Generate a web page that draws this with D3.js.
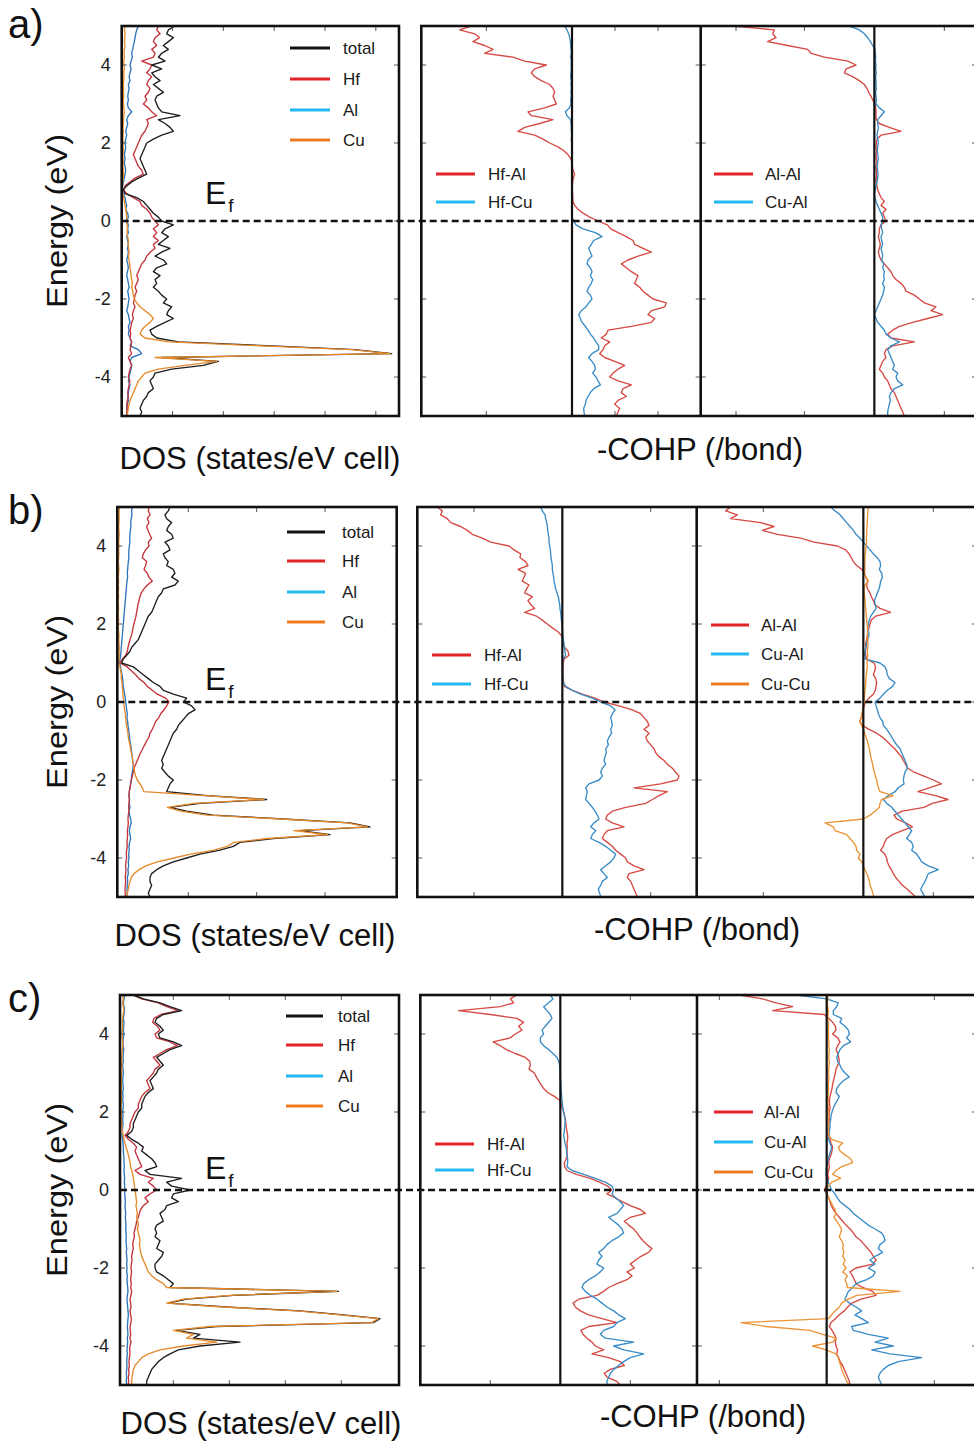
<!DOCTYPE html>
<html><head><meta charset="utf-8">
<script src="https://cdn.jsdelivr.net/npm/d3@7"></script>
<style>
html,body{margin:0;padding:0;background:#fff;}
svg{display:block;font-family:"Liberation Sans",Arial,Helvetica,sans-serif;}
</style></head><body>
<svg id="chart" width="974" height="1443"></svg>
<script>
// Sampling grid shared by every curve: +5 ... -5 eV in 0.1 eV steps
const energy = d3.range(50, -51, -1).map(k => k / 10);
const energyTicks = [4, 2, 0, -2, -4];
const rowTags = ["a)", "b)", "c)"];
const dosSeries = ["total", "Hf", "Al", "Cu"];

// ---- (a) DOS, states/eV cell ----
const dosA_total = [1.6,1.4,1.35,1.55,1.4,1.25,1.4,1.2,1.1,1.3,
0.9,1.2,0.9,1.0,1.15,0.95,1.1,1.25,1.05,1.0,
1.05,1.1,1.2,1.75,1.1,1.3,1.45,1.55,1.2,0.95,
0.75,0.7,0.65,0.6,0.55,0.6,0.65,0.7,0.75,0.5,
0.3,0.15,0.05,0.1,0.45,0.65,0.75,0.85,0.95,1.1,
1.2,1.55,1.3,1.2,1.4,1.25,1.1,1.45,1.2,1.0,
1.25,1.35,1.05,0.95,1.15,1.0,1.05,0.95,1.1,1.2,
1.35,1.25,1.5,1.4,1.35,1.55,1.3,1.05,0.85,0.9,
1.05,1.7,4.5,7.0,8.1,1.2,2.9,2.45,1.5,1.0,
0.95,0.85,0.9,0.95,0.8,0.75,0.65,0.6,0.55,0.6,
0.55];
const dosA_hf = [1.1,1.05,1.15,1.0,0.95,1.05,0.9,1.0,0.95,0.6,
0.9,0.85,0.75,0.9,0.8,0.75,0.85,0.8,0.7,0.75,
0.65,0.8,0.9,1.05,0.75,0.8,0.75,0.7,0.6,0.55,
0.5,0.45,0.4,0.35,0.4,0.45,0.5,0.6,0.65,0.4,
0.25,0.1,0.05,0.15,0.35,0.55,0.6,0.75,0.85,0.9,
1.0,1.1,0.95,1.05,0.95,1.1,0.95,1.0,0.85,0.75,
0.7,0.6,0.55,0.5,0.45,0.5,0.45,0.4,0.45,0.4,
0.38,0.35,0.4,0.35,0.32,0.35,0.3,0.28,0.25,0.27,
0.25,0.3,0.28,0.25,0.3,0.2,0.25,0.3,0.25,0.22,
0.2,0.25,0.22,0.2,0.18,0.2,0.17,0.15,0.17,0.15,
0.15];
const dosA_al = [0.5,0.45,0.42,0.4,0.38,0.35,0.33,0.3,0.32,0.28,
0.25,0.28,0.25,0.22,0.25,0.2,0.22,0.2,0.18,0.2,
0.17,0.2,0.3,0.2,0.15,0.18,0.15,0.12,0.15,0.12,
0.1,0.12,0.1,0.08,0.1,0.08,0.1,0.12,0.1,0.08,
0.05,0.03,0.02,0.05,0.1,0.12,0.15,0.12,0.18,0.2,
0.15,0.2,0.18,0.2,0.15,0.18,0.2,0.17,0.2,0.18,
0.15,0.18,0.2,0.17,0.15,0.18,0.2,0.22,0.18,0.2,
0.22,0.2,0.18,0.15,0.2,0.22,0.25,0.2,0.22,0.2,
0.25,0.3,0.25,0.5,0.6,0.3,0.25,0.3,0.28,0.25,
0.22,0.2,0.25,0.22,0.2,0.18,0.2,0.17,0.15,0.17,
0.15];
const dosA_cu = [0.1,0.08,0.1,0.09,0.08,0.1,0.08,0.07,0.08,0.06,
0.07,0.08,0.06,0.07,0.06,0.05,0.06,0.05,0.06,0.05,
0.05,0.06,0.08,0.06,0.05,0.05,0.04,0.05,0.04,0.04,
0.05,0.04,0.05,0.04,0.04,0.05,0.04,0.05,0.06,0.04,
0.03,0.02,0.02,0.03,0.06,0.08,0.1,0.12,0.14,0.15,
0.14,0.16,0.17,0.16,0.18,0.2,0.19,0.21,0.22,0.2,
0.22,0.24,0.25,0.27,0.28,0.3,0.32,0.3,0.33,0.35,
0.38,0.45,0.55,0.7,0.85,0.95,0.85,0.7,0.6,0.55,
0.7,1.4,4.2,6.9,8.05,1.0,2.85,1.9,1.1,0.7,
0.6,0.5,0.45,0.4,0.35,0.3,0.25,0.22,0.2,0.18,
0.15];

// ---- (a) -COHP per bond ----
const cohpA_hfal = [-3.02,-3.37,-2.92,-2.77,-2.97,-2.62,-2.37,-2.62,-1.77,-1.42,
-0.77,-1.12,-1.22,-1.12,-0.92,-0.67,-0.57,-0.52,-0.57,-0.52,
-0.47,-0.82,-1.32,-1.22,-0.57,-0.97,-1.42,-1.62,-1.12,-0.87,
-0.67,-0.42,-0.24,-0.12,-0.04,0,0.01,0.03,0.08,0.04,
0.02,0.01,0.01,0.02,0.02,0.03,0.08,0.18,0.33,0.53,
0.78,1.06,1.16,1.38,1.63,1.83,1.88,2.13,2.38,1.98,
1.68,1.48,1.63,1.78,1.98,1.93,1.88,2.03,2.13,2.28,
2.43,2.83,2.78,2.38,2.28,2.48,2.38,1.78,1.08,1.03,
0.88,1.13,0.98,0.93,0.83,0.98,1.28,1.58,1.38,1.23,
1.13,1.38,1.78,1.53,1.48,1.63,1.38,1.28,1.43,1.38,
1.33];
const cohpA_hfcu = [-0.22,-0.15,-0.1,-0.07,-0.05,-0.04,-0.03,-0.02,-0.04,-0.02,
-0.03,-0.02,-0.03,-0.04,-0.02,-0.03,-0.02,-0.03,-0.02,-0.04,
-0.03,-0.08,-0.2,-0.15,-0.04,-0.03,-0.02,-0.02,-0.01,-0.02,
-0.01,-0.01,0,-0.01,0,0,0.01,0,0,0.01,
0,0,0.01,0,0,0.01,0,0,0,0,
0.05,0.12,0.33,0.7,0.9,0.65,0.58,0.5,0.55,0.6,
0.48,0.45,0.55,0.6,0.55,0.62,0.58,0.5,0.45,0.55,
0.6,0.5,0.42,0.28,0.2,0.25,0.3,0.4,0.48,0.55,
0.65,0.72,0.8,0.8,0.6,0.5,0.6,0.68,0.7,0.62,
0.72,0.78,0.85,0.65,0.55,0.48,0.42,0.4,0.35,0.36,
0.38];
const cohpA_alal = [-4.25,-3.0,-3.05,-2.95,-3.2,-2.6,-2.0,-1.9,-1.5,-0.8,
-0.55,-0.85,-0.9,-0.65,-0.45,-0.3,-0.22,-0.17,-0.1,-0.05,
0.02,0.04,0.05,0.05,0.06,0.15,0.45,0.8,0.2,0.08,
0.06,0.05,0.07,0.05,0.06,0.08,0.05,0.06,0.07,0.06,
0.05,0.08,0.1,0.15,0.2,0.3,0.2,0.35,0.25,0.3,
0.35,0.2,0.15,0.15,0.12,0.15,0.18,0.15,0.12,0.15,
0.2,0.3,0.4,0.5,0.55,0.65,0.8,0.9,0.95,1.2,
1.35,1.5,1.85,1.7,2.05,1.6,1.15,0.75,0.55,0.4,
0.5,1.2,0.55,0.35,0.3,0.35,0.25,0.2,0.15,0.25,
0.3,0.4,0.45,0.5,0.6,0.65,0.7,0.75,0.8,0.85,
0.9];
const cohpA_cual = [-0.75,-0.45,-0.3,-0.2,-0.12,-0.05,0.02,0.03,0.04,0.03,
0.05,0.04,0.06,0.04,0.05,0.05,0.06,0.04,0.05,0.06,
0.05,0.15,0.3,0.2,0.1,0.1,0.12,0.1,0.08,0.1,
0.12,0.1,0.09,0.1,0.12,0.1,0.08,0.1,0.11,0.1,
0.08,0.05,0.03,0,0.02,0.05,0.1,0.15,0.2,0.25,
0.25,0.2,0.22,0.25,0.2,0.22,0.25,0.2,0.23,0.25,
0.22,0.28,0.25,0.3,0.28,0.3,0.25,0.3,0.28,0.25,
0.2,0.15,0.1,0.05,0,0.05,0.1,0.2,0.3,0.35,
0.5,0.75,0.5,0.4,0.45,0.5,0.55,0.6,0.55,0.7,
0.65,0.7,0.85,0.6,0.5,0.45,0.48,0.45,0.42,0.4,
0.4];

// ---- (b) DOS ----
const dosB_total = [1.58,1.53,1.43,1.48,1.63,1.53,1.48,1.63,1.68,1.43,
1.53,1.58,1.38,1.43,1.53,1.48,1.68,1.73,1.63,1.83,
1.73,1.38,1.33,1.23,1.18,1.13,1.08,1.03,0.93,0.88,
0.83,0.78,0.73,0.68,0.63,0.53,0.43,0.38,0.28,0.18,
0.13,0.48,0.63,0.78,0.93,1.08,1.28,1.38,1.68,2.08,
1.98,2.23,2.33,2.13,2.03,1.93,1.83,1.78,1.68,1.63,
1.58,1.53,1.48,1.43,1.38,1.33,1.38,1.33,1.43,1.53,
1.68,1.58,1.53,1.48,2.7,4.48,2.48,1.58,2.08,2.88,
4.98,6.98,7.58,5.48,6.38,4.68,3.68,3.48,3.08,2.48,
2.08,1.68,1.38,1.18,1.03,0.98,0.98,1.03,0.98,0.93,
0.98];
const dosB_hf = [0.95,0.93,0.98,0.9,0.95,0.88,0.92,0.97,1.03,0.93,
0.95,0.85,0.78,0.75,0.88,0.85,0.8,0.9,0.95,1.05,
0.9,0.8,0.72,0.68,0.65,0.62,0.6,0.58,0.56,0.53,
0.5,0.47,0.45,0.42,0.38,0.35,0.32,0.3,0.25,0.15,
0.08,0.3,0.42,0.55,0.65,0.8,0.9,1.05,1.2,1.45,
1.55,1.48,1.4,1.3,1.25,1.15,1.1,1.05,0.98,0.95,
0.88,0.82,0.76,0.7,0.65,0.6,0.55,0.5,0.48,0.45,
0.42,0.4,0.38,0.36,0.35,0.36,0.35,0.34,0.35,0.33,
0.32,0.33,0.32,0.3,0.31,0.3,0.29,0.3,0.28,0.27,
0.28,0.26,0.25,0.26,0.25,0.24,0.25,0.24,0.23,0.24,
0.23];
const dosB_al = [0.45,0.43,0.44,0.42,0.4,0.41,0.39,0.38,0.37,0.38,
0.36,0.35,0.34,0.35,0.33,0.32,0.31,0.3,0.31,0.29,
0.28,0.27,0.26,0.25,0.24,0.23,0.22,0.21,0.2,0.19,
0.18,0.17,0.16,0.15,0.14,0.13,0.12,0.11,0.1,0.08,
0.07,0.1,0.12,0.14,0.16,0.17,0.18,0.2,0.22,0.24,
0.25,0.27,0.28,0.3,0.29,0.31,0.32,0.34,0.35,0.37,
0.38,0.4,0.42,0.43,0.45,0.46,0.48,0.47,0.45,0.43,
0.42,0.4,0.38,0.36,0.35,0.37,0.36,0.38,0.35,0.37,
0.4,0.42,0.38,0.36,0.38,0.4,0.37,0.35,0.36,0.34,
0.35,0.33,0.34,0.32,0.33,0.3,0.31,0.3,0.29,0.3,
0.29];
const dosB_cu = [0.05,0.06,0.05,0.06,0.05,0.04,0.05,0.06,0.05,0.04,
0.05,0.04,0.05,0.04,0.03,0.04,0.05,0.04,0.03,0.04,
0.03,0.04,0.03,0.04,0.03,0.03,0.04,0.03,0.03,0.04,
0.03,0.03,0.04,0.05,0.04,0.05,0.06,0.05,0.06,0.05,
0.04,0.08,0.1,0.12,0.12,0.14,0.15,0.16,0.17,0.18,
0.2,0.2,0.22,0.24,0.25,0.26,0.28,0.3,0.32,0.33,
0.35,0.38,0.4,0.42,0.45,0.46,0.48,0.5,0.52,0.55,
0.6,0.68,0.75,0.8,2.6,4.4,2.3,1.5,1.9,2.7,
4.9,6.9,7.5,5.3,6.3,4.5,3.5,3.3,2.9,2.2,
1.7,1.2,0.85,0.65,0.5,0.42,0.38,0.35,0.33,0.3,
0.28];

// ---- (b) -COHP ----
const cohpB_hfal = [-3.75,-3.6,-3.65,-3.45,-3.35,-3.05,-2.85,-2.7,-2.4,-2.15,
-1.6,-1.45,-1.25,-1.27,-1.1,-1.03,-1.33,-1.1,-1.15,-1.2,
-1.0,-1.07,-1.13,-0.9,-1.03,-0.95,-0.83,-1.13,-0.77,-0.6,
-0.45,-0.3,-0.13,-0.02,0.02,0.03,0.07,0.17,0.2,0.05,
0.03,0.02,0.02,0.02,0.03,0.04,0.06,0.3,0.6,0.98,
1.25,1.7,2.1,2.35,2.45,2.55,2.6,2.45,2.6,2.5,
2.55,2.65,2.75,2.8,2.9,3.05,3.15,3.3,3.4,3.5,
3.45,2.95,2.15,3.15,2.9,2.7,2.5,1.9,1.5,1.35,
1.3,1.5,1.85,1.35,1.25,1.2,1.35,1.5,1.6,1.75,
1.9,1.95,2.15,2.45,2.0,1.95,2.05,2.1,2.15,2.2,
2.25];
const cohpB_hfcu = [-0.65,-0.6,-0.52,-0.5,-0.47,-0.45,-0.44,-0.42,-0.4,-0.4,
-0.38,-0.36,-0.35,-0.34,-0.32,-0.3,-0.3,-0.28,-0.26,-0.25,
-0.22,-0.2,-0.16,-0.12,-0.1,-0.08,-0.07,-0.05,-0.04,-0.03,
-0.01,0,0.01,0.02,0.03,0.05,0.06,0.08,0.1,0.02,
0,0.01,0,0.01,0.02,0.03,0.1,0.3,0.55,0.9,
1.15,1.45,1.58,1.5,1.45,1.48,1.5,1.45,1.48,1.4,
1.35,1.38,1.3,1.32,1.28,1.25,1.3,1.2,1.15,1.2,
1.1,0.8,0.7,0.75,0.72,0.7,0.8,0.9,0.98,1.05,
1.1,0.95,0.85,1.0,0.9,0.85,1.1,1.3,1.45,1.6,
1.55,1.45,1.3,1.15,1.25,1.35,1.2,1.15,1.08,1.12,
1.15];
const cohpB_alal = [-3.98,-4.13,-3.78,-3.98,-3.08,-2.68,-3.03,-2.58,-1.88,-1.48,
-0.78,-0.53,-0.43,-0.36,-0.3,-0.2,-0.05,0.04,0.07,0.14,
0.1,0.12,0.2,0.24,0.3,0.34,0.5,0.82,0.37,0.24,
0.2,0.17,0.14,0.12,0.1,0.07,0.08,0.06,0.07,0.1,
0.32,0.37,0.34,0.3,0.37,0.4,0.38,0.36,0.3,0.17,
0.07,0.02,0,-0.03,-0.06,-0.11,-0.03,0.17,0.4,0.57,
0.7,0.82,0.94,1.04,1.14,1.2,1.27,1.34,1.52,1.82,
2.1,2.34,1.97,1.64,2.17,2.54,2.07,1.82,1.17,0.92,
1.0,1.27,1.47,1.17,0.87,0.7,0.64,0.6,0.52,0.64,
0.7,0.72,0.77,0.84,0.9,0.97,1.07,1.17,1.32,1.44,
1.57];
const cohpB_cual = [-0.98,-0.85,-0.7,-0.6,-0.5,-0.4,-0.3,-0.22,-0.1,0,
0.1,0.2,0.3,0.42,0.5,0.52,0.48,0.55,0.57,0.52,
0.5,0.47,0.42,0.38,0.33,0.36,0.38,0.3,0.22,0.18,
0.15,0.13,0.16,0.17,0.13,0.1,0.08,0.05,0.04,0.06,
0.5,0.65,0.7,0.72,0.78,0.95,0.88,0.72,0.6,0.5,
0.35,0.38,0.42,0.45,0.5,0.58,0.6,0.7,0.78,0.85,
0.92,1.0,1.1,1.15,1.2,1.25,1.3,1.32,1.25,1.22,
1.2,1.22,1.05,0.95,0.75,0.6,0.7,0.85,0.95,1.05,
1.15,1.25,1.35,1.45,1.38,1.3,1.45,1.5,1.45,1.6,
1.68,1.75,1.95,2.25,1.95,1.9,1.85,1.78,1.72,1.78,
1.85];
const cohpB_cucu = [0.15,0.14,0.13,0.12,0.12,0.11,0.1,0.1,0.09,0.1,
0.08,0.07,0.06,0.05,0.05,0.04,0.05,0.03,0.08,0.15,
0.05,0.02,0.03,0.04,0.05,0.06,0.07,0.08,0.09,0.1,
0.11,0.12,0.13,0.12,0.13,0.14,0.13,0.12,0.13,0.12,
0.11,0.12,0.1,0.09,0.08,0.07,0.06,0.05,0.04,0.03,
0.02,0,-0.02,-0.04,-0.06,-0.1,-0.05,0,0.04,0.08,
0.12,0.15,0.18,0.2,0.22,0.25,0.28,0.3,0.33,0.36,
0.4,0.42,0.45,0.5,0.9,0.55,0.5,0.48,0.35,0.2,
0,-1.15,-0.9,-0.85,-0.5,-0.4,-0.3,-0.22,-0.2,-0.1,
-0.15,-0.05,0,0.05,0.1,0.15,0.18,0.2,0.25,0.28,
0.32];

// ---- (c) DOS ----
const dosC_total = [0.4,0.7,1.2,1.5,1.85,1.3,1.1,1.05,1.2,1.3,
1.15,1.2,1.6,1.85,1.5,1.3,1.1,1.2,1.3,1.15,
1.1,1.0,0.9,0.95,1.0,0.85,0.75,0.7,0.65,0.65,
0.55,0.5,0.45,0.4,0.4,0.35,0.2,0.35,0.55,0.7,
0.65,0.8,0.95,1.05,1.1,0.75,0.9,1.85,1.4,1.55,
2.1,1.6,1.55,1.75,1.4,1.35,1.2,1.25,1.3,1.1,
1.05,1.1,1.05,1.2,1.15,1.1,1.3,1.25,1.15,1.05,
1.05,1.1,1.3,1.45,1.6,1.5,6.55,3.4,2.0,1.45,
3.2,5.4,6.7,7.8,7.6,2.9,1.7,2.4,2.2,3.6,
2.4,1.75,1.5,1.3,1.15,1.05,0.95,0.9,0.85,0.8,
0.8];
const dosC_hf = [0.38,0.65,1.15,1.4,1.75,1.22,1.02,0.98,1.12,1.2,
1.05,1.1,1.5,1.72,1.4,1.2,1.0,1.1,1.2,1.05,
1.0,0.9,0.8,0.85,0.9,0.75,0.65,0.6,0.55,0.55,
0.45,0.4,0.35,0.3,0.3,0.25,0.15,0.25,0.4,0.5,
0.45,0.5,0.55,0.6,0.65,0.45,0.6,1.0,0.85,1.0,
1.1,0.9,0.75,0.85,0.7,0.62,0.58,0.55,0.5,0.48,
0.45,0.42,0.43,0.4,0.38,0.4,0.37,0.35,0.36,0.34,
0.33,0.35,0.33,0.32,0.34,0.32,0.35,0.33,0.3,0.32,
0.33,0.3,0.32,0.34,0.33,0.3,0.31,0.32,0.3,0.33,
0.3,0.29,0.3,0.28,0.27,0.28,0.26,0.27,0.25,0.26,
0.25];
const dosC_al = [0.15,0.12,0.1,0.12,0.14,0.12,0.1,0.12,0.11,0.1,
0.12,0.1,0.09,0.1,0.11,0.1,0.09,0.1,0.08,0.09,
0.1,0.09,0.08,0.09,0.1,0.08,0.09,0.08,0.1,0.09,
0.08,0.09,0.08,0.09,0.08,0.07,0.06,0.08,0.09,0.1,
0.1,0.11,0.12,0.12,0.13,0.12,0.13,0.14,0.13,0.14,
0.15,0.14,0.15,0.16,0.15,0.16,0.17,0.16,0.17,0.18,
0.17,0.18,0.19,0.18,0.19,0.2,0.19,0.2,0.21,0.2,
0.21,0.2,0.22,0.21,0.22,0.23,0.24,0.22,0.21,0.22,
0.23,0.24,0.25,0.24,0.23,0.22,0.23,0.24,0.22,0.23,
0.22,0.21,0.22,0.21,0.2,0.21,0.2,0.19,0.2,0.19,
0.2];
const dosC_cu = [0.08,0.1,0.08,0.1,0.12,0.09,0.08,0.07,0.08,0.07,
0.06,0.07,0.08,0.09,0.07,0.06,0.05,0.06,0.05,0.06,
0.05,0.04,0.05,0.04,0.05,0.04,0.04,0.05,0.04,0.03,
0.04,0.05,0.04,0.05,0.06,0.07,0.1,0.12,0.15,0.18,
0.22,0.25,0.28,0.3,0.32,0.35,0.38,0.4,0.42,0.43,
0.45,0.47,0.48,0.5,0.48,0.5,0.52,0.5,0.53,0.55,
0.52,0.55,0.58,0.6,0.58,0.6,0.62,0.65,0.7,0.75,
0.8,0.85,0.95,1.1,1.3,1.4,6.5,3.3,1.9,1.4,
3.1,5.3,6.6,7.75,7.55,2.7,1.6,2.2,2.0,2.9,
1.9,1.2,0.85,0.65,0.55,0.45,0.4,0.38,0.36,0.35,
0.35];

// ---- (c) -COHP ----
const cohpC_hfal = [-1.3,-1.5,-1.4,-1.8,-3.05,-2.1,-1.3,-1.1,-1.25,-1.15,
-1.35,-1.5,-2.02,-1.8,-1.62,-1.35,-1.05,-0.92,-0.9,-0.94,
-0.78,-0.72,-0.65,-0.58,-0.5,-0.38,-0.18,-0.02,0.03,0.06,
0.1,0.13,0.15,0.17,0.18,0.2,0.22,0.22,0.2,0.21,
0.2,0.21,0.18,0.12,0.13,0.2,0.48,0.9,1.18,1.42,
1.55,1.4,1.65,1.85,2.1,2.4,2.55,2.1,1.92,2.05,
2.2,2.3,2.38,2.48,2.6,2.75,2.65,2.42,2.25,2.1,
2.22,2.0,2.15,2.0,1.7,1.45,1.3,1.1,0.55,0.38,
0.45,0.6,0.85,1.25,1.7,0.85,0.62,0.68,0.8,0.95,
1.05,1.3,0.95,1.45,1.8,1.92,1.5,1.32,1.4,1.68,
1.8];
const cohpC_hfcu = [-0.3,-0.22,-0.35,-0.5,-0.4,-0.3,-0.25,-0.35,-0.45,-0.55,
-0.5,-0.6,-0.6,-0.5,-0.35,-0.22,-0.1,-0.05,-0.02,-0.01,
0,0,0.01,0.02,0.02,0.03,0.04,0.05,0.06,0.08,
0.1,0.12,0.15,0.14,0.13,0.12,0.1,0.12,0.14,0.17,
0.19,0.2,0.22,0.22,0.2,0.35,0.7,1.05,1.35,1.55,
1.6,1.55,1.65,1.8,1.9,1.8,1.7,1.45,1.6,1.75,
1.85,1.9,1.75,1.55,1.4,1.3,1.15,1.25,1.15,1.1,
1.3,1.2,1.05,0.85,0.7,0.65,0.75,0.9,1.1,1.25,
1.4,1.6,1.75,1.95,1.7,1.6,1.3,1.2,1.35,2.2,
1.6,1.9,2.5,2.1,1.9,1.75,1.6,1.5,1.45,1.4,
1.4];
const cohpC_alal = [-2.62,-1.92,-1.52,-1.02,-1.62,-0.07,0.06,0.18,0.26,0.28,
0.18,0.33,0.4,0.33,0.28,0.33,0.36,0.38,0.33,0.28,
0.26,0.23,0.2,0.18,0.16,0.13,0.1,0.08,0.09,0.1,
0.08,0.07,0.08,0.06,0.07,0.08,0.08,0.1,0.13,0.18,
0.16,0.13,0.08,0.06,0.08,0.06,0.03,0.06,0.03,-0.02,
-0.07,0.01,0.06,0.1,0.14,0.2,0.28,0.38,0.48,0.58,
0.7,0.8,0.88,1.03,1.13,1.23,1.33,1.4,1.48,1.38,
0.88,0.7,0.78,0.83,0.88,1.08,1.38,1.48,1.03,0.76,
0.63,0.53,0.38,0.26,0.13,0.08,0.16,0.23,0.28,0.26,
0.28,0.33,0.3,0.36,0.4,0.48,0.53,0.58,0.63,0.68,
0.7];
const cohpC_cual = [-0.92,0,0.35,0.3,0.2,0.2,0.45,0.4,0.55,0.65,
0.68,0.6,0.72,0.5,0.4,0.35,0.3,0.33,0.4,0.45,
0.55,0.68,0.5,0.38,0.3,0.28,0.38,0.32,0.25,0.2,
0.16,0.13,0.12,0.1,0.1,0.08,0.07,0.06,0.1,0.15,
0.12,0.08,0.05,0.03,0,-0.01,-0.02,0.02,0.05,0.1,
0.15,0.25,0.32,0.4,0.55,0.7,0.8,0.95,1.1,1.25,
1.45,1.65,1.72,1.75,1.6,1.55,1.68,1.45,1.3,1.45,
1.25,1.45,1.4,1.2,0.88,0.78,0.65,0.6,0.55,0.68,
0.88,1.05,0.85,1.05,1.25,0.75,0.8,1.25,1.85,1.45,
2.0,1.35,1.9,2.85,2.15,1.85,1.7,1.6,1.55,1.6,
1.65];
const cohpC_cucu = [0.03,0.04,0.02,0.03,0.05,0.04,0.03,0.05,0.06,0.05,
0.06,0.05,0.07,0.06,0.08,0.07,0.06,0.08,0.07,0.06,
0.05,0.07,0.06,0.05,0.06,0.05,0.04,0.05,0.04,0.05,
0.06,0.05,0.06,0.07,0.05,0.06,0.05,0.15,0.48,0.35,
0.4,0.55,0.72,0.78,0.45,0.28,0.18,0.42,0.15,0.05,
0,0.02,0.06,0.12,0.18,0.25,0.28,0.22,0.3,0.38,
0.45,0.42,0.38,0.45,0.5,0.48,0.52,0.48,0.55,0.5,
0.58,0.48,0.62,0.55,0.6,0.62,2.2,0.9,0.65,0.45,
0.38,0.25,0.15,0.05,-2.57,-1.82,-0.5,-0.12,0.28,0.18,
-0.42,-0.02,0.28,0.35,0.38,0.42,0.45,0.5,0.55,0.6,
0.68];

// ---------------- layout & styling ----------------
const W = 974, H = 1443;
const svg = d3.select("#chart");

const curveColor = {
  total: "#1e1e1e", Hf: "#c4343c", Al: "#2e76bb", Cu: "#e58a2b",
  "Hf-Al": "#d54a43", "Hf-Cu": "#3a8cc6", "Al-Al": "#d54a43", "Cu-Al": "#3a8cc6", "Cu-Cu": "#ea9436"
};
const legendColor = {
  total: "#111111", Hf: "#e3242b", Al: "#22baf0", Cu: "#f27a1e",
  "Hf-Al": "#e3242b", "Hf-Cu": "#22baf0", "Al-Al": "#e3242b", "Cu-Al": "#22baf0", "Cu-Cu": "#f27a1e"
};

const rows = [
  {
    zeroY: 221, tagY: 38,
    dos: { x0: 121.7, x1: 399, max: 8.32, xTicks: [1.525, 3.05, 4.575, 6.1, 7.625],
           series: { total: dosA_total, Hf: dosA_hf, Al: dosA_al, Cu: dosA_cu },
           legend: { lx0: 290, lx1: 330, tx: 343, ys: [48, 79, 110, 140] } },
    efY: 204, dosLabel: { x: 260, y: 469 }, cohpLabel: { x: 700, y: 460 },
    cohp: [
      { x0: 421.3, x1: 700.7, domain: [-4.52, 3.86], xTicks: [-2.57, 1.29, 2.58],
        series: { "Hf-Al": cohpA_hfal, "Hf-Cu": cohpA_hfcu },
        legend: { lx0: 436, lx1: 475, tx: 488, ys: [174, 202] } },
      { x0: 700.7, x1: 977, domain: [-5.21, 3.08], xTicks: [-4.15, -2.1, 2.1],
        series: { "Al-Al": cohpA_alal, "Cu-Al": cohpA_cual },
        legend: { lx0: 714, lx1: 753, tx: 765, ys: [174, 202] } }
    ]
  },
  {
    zeroY: 702, tagY: 524,
    dos: { x0: 117.3, x1: 396.7, max: 8.38, xTicks: [2.13, 4.18, 6.23],
           series: { total: dosB_total, Hf: dosB_hf, Al: dosB_al, Cu: dosB_cu },
           legend: { lx0: 287, lx1: 325, tx: 342, ys: [532, 561, 592, 622] } },
    efY: 690, dosLabel: { x: 255, y: 946 }, cohpLabel: { x: 697, y: 940 },
    cohp: [
      { x0: 417.3, x1: 696.7, domain: [-4.35, 4.03], xTicks: [-2.65, 2.65],
        series: { "Hf-Al": cohpB_hfal, "Hf-Cu": cohpB_hfcu },
        legend: { lx0: 432, lx1: 471, tx: 484, ys: [655, 684] } },
      { x0: 696.7, x1: 977, domain: [-5.0, 3.41], xTicks: [-3.0, 2.1],
        series: { "Al-Al": cohpB_alal, "Cu-Al": cohpB_cual, "Cu-Cu": cohpB_cucu },
        legend: { lx0: 711, lx1: 749, tx: 761, ys: [625, 654, 684] } }
    ]
  },
  {
    zeroY: 1190, tagY: 1012,
    dos: { x0: 120, x1: 399, max: 8.37, xTicks: [1.6, 3.28, 4.96, 6.64],
           series: { total: dosC_total, Hf: dosC_hf, Al: dosC_al, Cu: dosC_cu },
           legend: { lx0: 286, lx1: 323, tx: 338, ys: [1016, 1045, 1076, 1106] } },
    efY: 1179, dosLabel: { x: 261, y: 1434 }, cohpLabel: { x: 703, y: 1427 },
    cohp: [
      { x0: 420.3, x1: 697, domain: [-4.2, 4.1], xTicks: [-2.1, 2.1],
        series: { "Hf-Al": cohpC_hfal, "Hf-Cu": cohpC_hfcu },
        legend: { lx0: 435, lx1: 474, tx: 487, ys: [1144, 1170] } },
      { x0: 697, x1: 977, domain: [-3.89, 4.51], xTicks: [-3.22, 3.23],
        series: { "Al-Al": cohpC_alal, "Cu-Al": cohpC_cual, "Cu-Cu": cohpC_cucu },
        legend: { lx0: 714, lx1: 753, tx: 764, ys: [1112, 1142, 1172] } }
    ]
  }
];

const defs = svg.append("defs");
let clipId = 0;

function drawCurves(g, xScale, yScale, series, order, top, bottom, x0, x1) {
  const id = "clip" + (clipId++);
  defs.append("clipPath").attr("id", id).append("rect")
    .attr("x", x0).attr("y", top).attr("width", x1 - x0).attr("height", bottom - top);
  const cg = g.append("g").attr("clip-path", `url(#${id})`);
  order.forEach(name => {
    const vals = series[name];
    const line = d3.line()
      .x((v) => xScale(v))
      .y((v, i) => yScale(energy[i]));
    cg.append("path")
      .attr("d", line(vals))
      .attr("fill", "none")
      .attr("stroke", curveColor[name])
      .attr("stroke-width", 1.35)
      .attr("stroke-linejoin", "round");
  });
}

function drawTicks(g, xScale, yScale, xTicks, x0, x1, top, bottom) {
  const t = g.append("g").attr("stroke", "#555").attr("stroke-width", 1);
  xTicks.forEach(v => {
    const x = xScale(v);
    t.append("line").attr("x1", x).attr("x2", x).attr("y1", top).attr("y2", top + 5);
    t.append("line").attr("x1", x).attr("x2", x).attr("y1", bottom).attr("y2", bottom - 5);
  });
  energyTicks.forEach(e => {
    const y = yScale(e);
    t.append("line").attr("x1", x0).attr("x2", x0 + 5).attr("y1", y).attr("y2", y);
    t.append("line").attr("x1", x1).attr("x2", x1 - 5).attr("y1", y).attr("y2", y);
  });
}

function drawLegend(g, names, lg) {
  names.forEach((name, k) => {
    const y = lg.ys[k];
    g.append("line").attr("x1", lg.lx0).attr("x2", lg.lx1).attr("y1", y).attr("y2", y)
      .attr("stroke", legendColor[name]).attr("stroke-width", 3);
    g.append("text").attr("x", lg.tx).attr("y", y + 6)
      .attr("font-size", 17).attr("fill", "#1a1a1a").text(name);
  });
}

rows.forEach((row, r) => {
  const g = svg.append("g");
  const top = row.zeroY - 195, bottom = row.zeroY + 195;
  const yScale = d3.scaleLinear().domain([-5, 5]).range([bottom, top]);

  // panel tag
  g.append("text").attr("x", 8).attr("y", row.tagY).attr("font-size", 40)
    .attr("fill", "#111").text(rowTags[r]);

  // ---- DOS panel ----
  const d = row.dos;
  const xDos = d3.scaleLinear().domain([0, d.max]).range([d.x0, d.x1]);
  drawCurves(g, xDos, yScale, d.series, ["Al", "Hf", "total", "Cu"], top, bottom, d.x0, d.x1);
  drawTicks(g, xDos, yScale, d.xTicks, d.x0, d.x1, top, bottom);
  g.append("rect").attr("x", d.x0).attr("y", top).attr("width", d.x1 - d.x0).attr("height", bottom - top)
    .attr("fill", "none").attr("stroke", "#111").attr("stroke-width", 2.6);
  drawLegend(g, dosSeries, d.legend);

  // energy axis labels
  const yAxis = d3.axisLeft(yScale).tickValues(energyTicks).tickSize(0).tickPadding(11)
    .tickFormat(v => String(v));
  const ya = g.append("g").attr("transform", `translate(${d.x0},0)`).call(yAxis);
  ya.select(".domain").remove();
  ya.selectAll("text").attr("font-size", 18).attr("fill", "#222")
    .attr("font-family", "'Liberation Sans', Arial, sans-serif");

  g.append("text")
    .attr("transform", `translate(67,${row.zeroY}) rotate(-90)`)
    .attr("text-anchor", "middle").attr("font-size", 29).attr("fill", "#111")
    .attr("textLength", 174).attr("lengthAdjust", "spacingAndGlyphs")
    .text("Energy (eV)");

  g.append("text").attr("x", row.dosLabel.x).attr("y", row.dosLabel.y)
    .attr("text-anchor", "middle").attr("font-size", 31).attr("fill", "#111")
    .text("DOS (states/eV cell)");

  // Fermi level marker
  const ef = g.append("text").attr("x", 205).attr("y", row.efY).attr("fill", "#111");
  ef.append("tspan").attr("font-size", 32).text("E");
  ef.append("tspan").attr("font-size", 19).attr("dx", 2).attr("dy", 8).text("f");

  // ---- COHP panels ----
  row.cohp.forEach(p => {
    const xC = d3.scaleLinear().domain(p.domain).range([p.x0, p.x1]);
    const names = Object.keys(p.series);
    drawCurves(g, xC, yScale, p.series, names, top, bottom, p.x0, p.x1);
    drawTicks(g, xC, yScale, p.xTicks, p.x0, p.x1, top, bottom);
    g.append("line").attr("x1", xC(0)).attr("x2", xC(0)).attr("y1", top).attr("y2", bottom)
      .attr("stroke", "#111").attr("stroke-width", 2.2);
    drawLegend(g, names, p.legend);
  });
  const c0 = row.cohp[0], c1 = row.cohp[1];
  g.append("rect").attr("x", c0.x0).attr("y", top).attr("width", c1.x1 - c0.x0).attr("height", bottom - top)
    .attr("fill", "none").attr("stroke", "#111").attr("stroke-width", 2.6);
  g.append("line").attr("x1", c0.x1).attr("x2", c0.x1).attr("y1", top).attr("y2", bottom)
    .attr("stroke", "#111").attr("stroke-width", 2.6);

  g.append("text").attr("x", row.cohpLabel.x).attr("y", row.cohpLabel.y)
    .attr("text-anchor", "middle").attr("font-size", 31).attr("fill", "#111")
    .text("-COHP (/bond)");

  // Fermi level dashed line across all panels
  g.append("line").attr("x1", d.x0).attr("x2", W).attr("y1", yScale(0)).attr("y2", yScale(0))
    .attr("stroke", "#111").attr("stroke-width", 2.4).attr("stroke-dasharray", "7,4");
});
</script>
</body></html>
